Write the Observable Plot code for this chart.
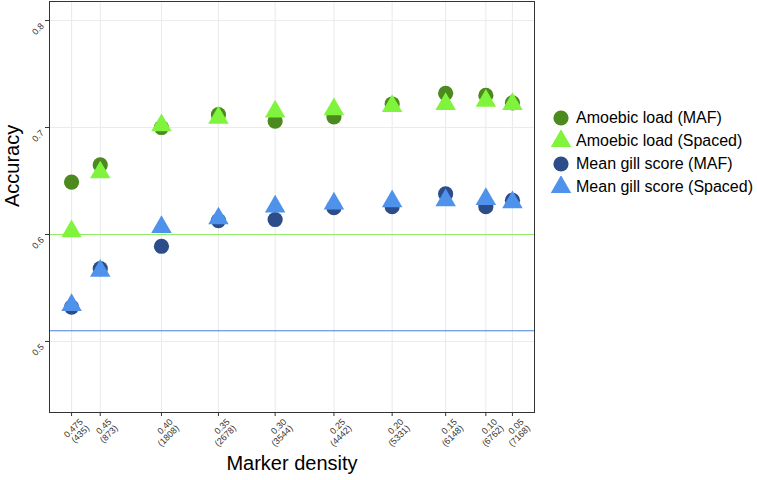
<!DOCTYPE html>
<html><head><meta charset="utf-8">
<script src="https://cdn.jsdelivr.net/npm/d3@7"></script>
<script src="https://cdn.jsdelivr.net/npm/@observablehq/plot@0.6"></script>
<style>
body{margin:0;background:#fff;font-family:"Liberation Sans",Arial,sans-serif;}
#wrap{position:relative;width:757px;height:480px;}
#legend{position:absolute;left:550px;top:106px;font-size:16px;color:#000;}
.item{display:flex;align-items:center;height:23px;white-space:nowrap;}
.item svg{width:22px;height:22px;margin-right:4px;}
</style></head><body><div id="wrap"></div>
<script>
const densities = ["0.475","0.45","0.40","0.35","0.30","0.25","0.20","0.15","0.10","0.05"];
const markers = [435, 873, 1808, 2678, 3544, 4442, 5331, 6148, 6762, 7168];
const amoebicMAF    = [0.649, 0.665, 0.700, 0.712, 0.706, 0.710, 0.722, 0.732, 0.730, 0.723];
const amoebicSpaced = [0.603, 0.658, 0.702, 0.709, 0.715, 0.717, 0.720, 0.722, 0.725, 0.722];
const gillMAF       = [0.532, 0.568, 0.589, 0.613, 0.614, 0.625, 0.626, 0.638, 0.626, 0.632];
const gillSpaced    = [0.534, 0.566, 0.607, 0.615, 0.626, 0.629, 0.631, 0.632, 0.633, 0.630];
const seriesNames = ["Amoebic load (MAF)", "Amoebic load (Spaced)", "Mean gill score (MAF)", "Mean gill score (Spaced)"];
const seriesValues = [amoebicMAF, amoebicSpaced, gillMAF, gillSpaced];
const seriesColors = ["#4c8a20", "#80f43c", "#2c4c8a", "#4e92ec"];
const seriesSymbols = ["circle", "triangle", "circle", "triangle"];
const baselines = [0.60, 0.51];
const baselineColors = ["#93ec66", "#4a7fd8"];
const yTicks = [0.5, 0.6, 0.7, 0.8];

const rows = [];
seriesNames.forEach((s, i) => markers.forEach((m, j) => rows.push({series: s, markers: m, value: seriesValues[i][j]})));
const baseRows = baselines.map((v, i) => ({value: v, color: baselineColors[i]}));

const chart = Plot.plot({
  width: 757, height: 480,
  marginLeft: 49, marginRight: 223, marginTop: 1, marginBottom: 68,
  style: {fontFamily: "'Liberation Sans', Arial, sans-serif", fontSize: "9px", background: "#fff", color: "#333"},
  x: {domain: [98, 7505]},
  y: {domain: [0.4336, 0.8178]},
  color: {domain: seriesNames, range: seriesColors},
  symbol: {domain: seriesNames, range: seriesSymbols},
  marks: [
    Plot.gridX(markers, {stroke: "#ebebeb", strokeOpacity: 1, strokeWidth: 1.1}),
    Plot.gridY(yTicks, {stroke: "#ebebeb", strokeOpacity: 1, strokeWidth: 1.1}),
    Plot.ruleY(baseRows, {y: "value", stroke: d => d.color, strokeWidth: 1.2}),
    Plot.dot(rows, {x: "markers", y: "value", fill: "series", symbol: "series", r: 7.6, stroke: null}),
    Plot.frame({stroke: "#333", strokeWidth: 1}),
    Plot.axisX(markers, {
      tickFormat: d => densities[markers.indexOf(d)] + "\n(" + d + ")",
      tickRotate: -45, fontSize: 9, tickSize: 4, stroke: "#333", fill: "#333", label: null, tickPadding: 2
    }),
    Plot.axisY(yTicks, {
      tickFormat: d => d.toFixed(1), tickRotate: -45, fontSize: 9, tickSize: 4, stroke: "#333", fill: "#333", label: null, tickPadding: 3
    }),
    Plot.text(["Accuracy"], {frameAnchor: "left", rotate: -90, dx: -37, fontSize: 20, fill: "#000"}),
    Plot.text(["Marker density"], {frameAnchor: "bottom", dy: 57, fontSize: 20, fill: "#000"})
  ]
});
const wrap = document.getElementById("wrap");
wrap.appendChild(chart);

// Shift the rotated tick labels to match the reference placement.
chart.querySelectorAll("g[aria-label='x-axis tick label'] text").forEach(t => {
  t.setAttribute("transform", "translate(13,5) " + (t.getAttribute("transform") || ""));
});
chart.querySelectorAll("g[aria-label='y-axis tick label'] text").forEach(t => {
  t.setAttribute("transform", "translate(0,4) " + (t.getAttribute("transform") || ""));
});

const legend = document.createElement("div");
legend.id = "legend";
seriesNames.forEach((s, i) => {
  const item = document.createElement("div");
  item.className = "item";
  const sym = d3.symbol(seriesSymbols[i] === "circle" ? d3.symbolCircle : d3.symbolTriangle, Math.PI * 7.6 * 7.6)();
  item.innerHTML = `<svg viewBox="-11 -11 22 22"><path d="${sym}" fill="${seriesColors[i]}"/></svg><span>${s}</span>`;
  legend.appendChild(item);
});
wrap.appendChild(legend);
</script>
</body></html>
